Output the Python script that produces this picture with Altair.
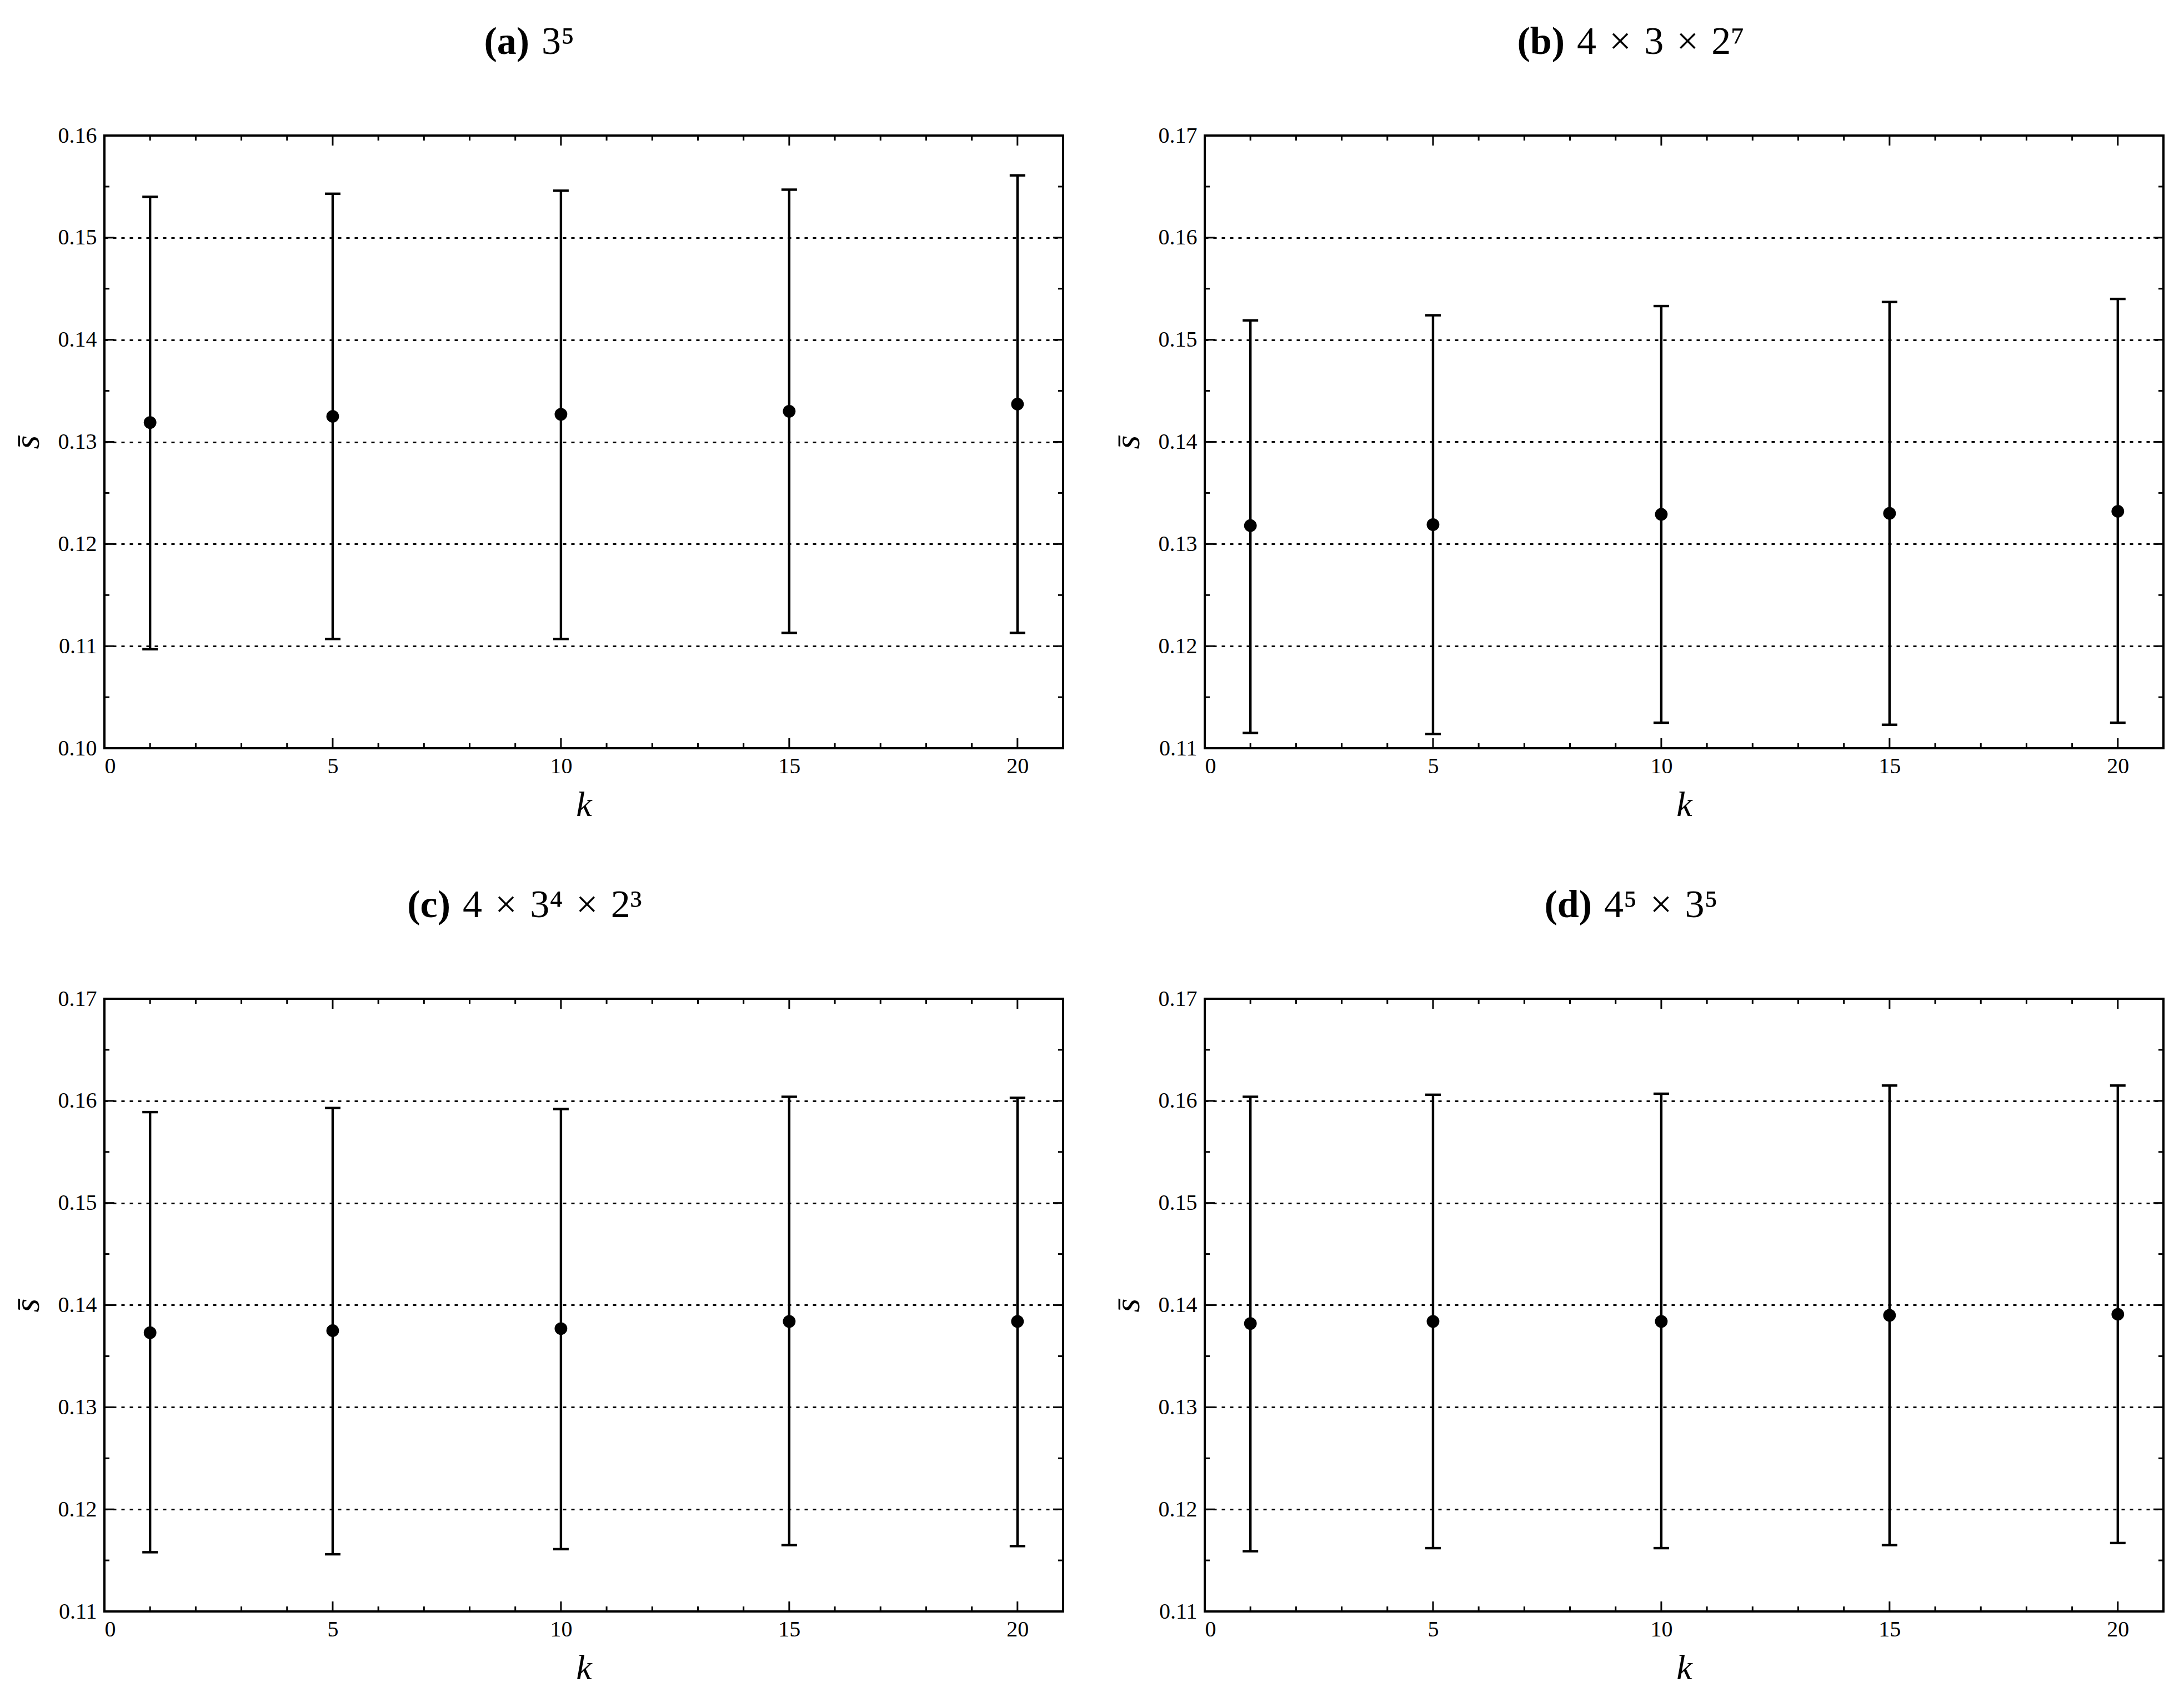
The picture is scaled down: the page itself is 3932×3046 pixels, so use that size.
import altair as alt
import pandas as pd

# ---------------- data ----------------
k_values = [1, 5, 10, 15, 20]

a_mean = [0.1319, 0.1325, 0.1327, 0.1330, 0.1337]
a_low = [0.1097, 0.1107, 0.1107, 0.1113, 0.1113]
a_high = [0.1540, 0.1543, 0.1546, 0.1547, 0.1561]

b_mean = [0.1318, 0.1319, 0.1329, 0.1330, 0.1332]
b_low = [0.1115, 0.1114, 0.1125, 0.1123, 0.1125]
b_high = [0.1519, 0.1524, 0.1533, 0.1537, 0.1540]

c_mean = [0.1373, 0.1375, 0.1377, 0.1384, 0.1384]
c_low = [0.1158, 0.1156, 0.1161, 0.1165, 0.1164]
c_high = [0.1589, 0.1593, 0.1592, 0.1604, 0.1603]

d_mean = [0.1382, 0.1384, 0.1384, 0.1390, 0.1391]
d_low = [0.1159, 0.1162, 0.1162, 0.1165, 0.1167]
d_high = [0.1604, 0.1606, 0.1607, 0.1615, 0.1615]

SP = "\u2004"  # three-per-em space around the multiplication sign
panel_labels = ["(a)", "(b)", "(c)", "(d)"]
panel_names = [
    "3⁵",
    f"4{SP}×{SP}3{SP}×{SP}2⁷",
    f"4{SP}×{SP}3⁴{SP}×{SP}2³",
    f"4⁵{SP}×{SP}3⁵",
]

x_domain = [0, 21]
x_major = [0, 5, 10, 15, 20]
x_minor = [1, 2, 3, 4, 6, 7, 8, 9, 11, 12, 13, 14, 16, 17, 18, 19]

y_domain_a = [0.10, 0.16]
y_major_a = [0.10, 0.11, 0.12, 0.13, 0.14, 0.15, 0.16]
y_minor_a = [0.105, 0.115, 0.125, 0.135, 0.145, 0.155]

y_domain_bcd = [0.11, 0.17]
y_major_bcd = [0.11, 0.12, 0.13, 0.14, 0.15, 0.16, 0.17]
y_minor_bcd = [0.115, 0.125, 0.135, 0.145, 0.155, 0.165]

x_title = "k"
y_title = "s\u0304"

# ---------------- style ----------------
W, H = 1726, 1103
FONT = "Liberation Serif"
MAJ, MIN = 18, 9
TICK_W = 3
LINE_W = 4.4
TITLE_SIZE = 70


def panel(label, name, anchor, mean, low, high, y_domain, y_major, y_minor):
    df = pd.DataFrame({"k": k_values, "mean": mean, "low": low, "high": high})
    xs = alt.Scale(domain=x_domain, nice=False, zero=False)
    ys = alt.Scale(domain=y_domain, nice=False, zero=False)
    xaxis = alt.Axis(values=x_major, title=x_title, format="d", grid=False)
    yaxis = alt.Axis(values=y_major, title=y_title, format=".2f", grid=True)

    def X(f):
        return alt.X(f, type="quantitative", scale=xs, axis=xaxis)

    def Y(f):
        return alt.Y(f, type="quantitative", scale=ys, axis=yaxis)

    layers = []
    ymaj = pd.DataFrame({"v": y_major})
    ymin = pd.DataFrame({"v": y_minor})
    xmaj = pd.DataFrame({"v": x_major})
    xmin = pd.DataFrame({"v": x_minor})
    rule = dict(color="black", strokeWidth=TICK_W)
    for d, ln in ((ymaj, MAJ), (ymin, MIN)):
        layers.append(alt.Chart(d).mark_rule(**rule).encode(
            y=Y("v"), x=alt.value(0), x2=alt.value(ln)))
        layers.append(alt.Chart(d).mark_rule(**rule).encode(
            y=Y("v"), x=alt.value(W - ln), x2=alt.value(W)))
    for d, ln in ((xmaj, MAJ), (xmin, MIN)):
        layers.append(alt.Chart(d).mark_rule(**rule).encode(
            x=X("v"), y=alt.value(H - ln), y2=alt.value(H)))
        layers.append(alt.Chart(d).mark_rule(**rule).encode(
            x=X("v"), y=alt.value(0), y2=alt.value(ln)))

    base = alt.Chart(df)
    layers.append(base.mark_rule(color="black", strokeWidth=LINE_W).encode(
        x=X("k"), y=Y("low"), y2="high"))
    layers.append(base.mark_tick(orient="horizontal", color="black", size=28,
                                 thickness=LINE_W, opacity=1).encode(x=X("k"), y=Y("low")))
    layers.append(base.mark_tick(orient="horizontal", color="black", size=28,
                                 thickness=LINE_W, opacity=1).encode(x=X("k"), y=Y("high")))
    layers.append(base.mark_circle(color="black", size=520, opacity=1).encode(
        x=X("k"), y=Y("mean")))

    tdf = pd.DataFrame({"bold": [label], "rest": [name]})
    layers.append(alt.Chart(tdf).mark_text(
        align="right", baseline="alphabetic", font=FONT, fontSize=TITLE_SIZE,
        fontWeight="bold", color="black").encode(
        text="bold:N", x=alt.value(anchor), y=alt.value(-147)))
    layers.append(alt.Chart(tdf).mark_text(
        align="left", baseline="alphabetic", font=FONT, fontSize=TITLE_SIZE,
        color="black", dx=22).encode(
        text="rest:N", x=alt.value(anchor), y=alt.value(-147)))

    return alt.layer(*layers).properties(width=W, height=H)


pa = panel(panel_labels[0], panel_names[0], 765, a_mean, a_low, a_high,
           y_domain_a, y_major_a, y_minor_a)
pb = panel(panel_labels[1], panel_names[1], 648, b_mean, b_low, b_high,
           y_domain_bcd, y_major_bcd, y_minor_bcd)
pc = panel(panel_labels[2], panel_names[2], 623, c_mean, c_low, c_high,
           y_domain_bcd, y_major_bcd, y_minor_bcd)
pd_ = panel(panel_labels[3], panel_names[3], 697, d_mean, d_low, d_high,
            y_domain_bcd, y_major_bcd, y_minor_bcd)

chart = alt.vconcat(
    alt.hconcat(pa, pb, spacing=79),
    alt.hconcat(pc, pd_, spacing=79),
    spacing=110,
).properties(
    padding={"left": 8, "top": 31, "right": 5, "bottom": 5},
    background="white",
).configure_view(
    stroke="black", strokeWidth=4
).configure_axis(
    domain=False, ticks=False,
    labelFont=FONT, labelFontSize=40, labelColor="black", labelPadding=14,
    titleFont=FONT, titleFontSize=64, titleFontStyle="italic",
    titleFontWeight="normal", titleColor="black", titlePadding=22,
    gridColor="black", gridDash=[6, 9], gridWidth=3, gridOpacity=1,
).configure_axisY(
    titlePadding=22, labelPadding=14
).configure_axisX(
    grid=False, labelPadding=12, titlePadding=18
)

chart.save("out.html", embed_options={"renderer": "svg", "actions": False})
